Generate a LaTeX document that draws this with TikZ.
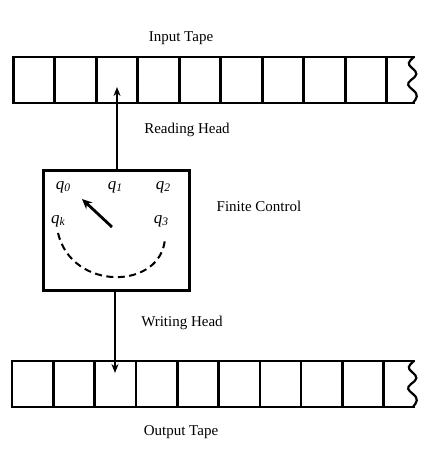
\documentclass[tikz,border=0pt]{standalone}
\usepackage{fontspec}
\setmainfont{Liberation Serif}
\usetikzlibrary{arrows.meta}
\tikzset{
  cell/.style={draw, line width=2.6pt, minimum width=41.3pt, minimum height=46pt, inner sep=0pt, outer sep=0pt},
  ctrl/.style={draw, line width=3pt, minimum width=146pt, minimum height=120pt, inner sep=0pt},
  lbl/.style={font=\fontsize{15}{17}\selectfont, inner sep=0pt},
  stt/.style={font=\fontsize{17}{19}\selectfont\itshape, inner sep=0pt},
  headarrow/.style={line width=1.8pt, -{Stealth[length=9pt,width=7pt]}},
  needle/.style={line width=2.8pt, -{Stealth[length=10pt,width=9pt]}},
  arcdash/.style={line width=2pt, dash pattern=on 7pt off 4.5pt}
}
\newcommand{\qs}[1]{q\raisebox{-0.25ex}{\fontsize{11.5}{13}\selectfont\itshape #1}}
\begin{document}
\begin{tikzpicture}[x=1pt,y=-1pt]
\useasboundingbox (0,0) rectangle (432,464);
% input tape
\foreach \i [count=\n] in {0,...,8} {
  \node[cell] (in\n) at (34+41.5*\i,80) {};
}
\draw[line width=2.6pt] (in9.north east) -- (415,57);
\draw[line width=2.6pt] (in9.south east) -- (415,103);
\draw[line width=2.2pt] (414,57) .. controls (408,62) and (407,64) .. (412,68)
  .. controls (418,73) and (418,75) .. (411,80)
  .. controls (406,84) and (408,86) .. (413,90)
  .. controls (419,95) and (417,98) .. (413,103);
% output tape
\foreach \i [count=\n] in {0,...,8} {
  \node[cell] (out\n) at (32.7+41.3*\i,384) {};
}
\draw[line width=2.6pt] (out9.north east) -- (415,361);
\draw[line width=2.6pt] (out9.south east) -- (415,407);
\draw[line width=2.2pt] (414,361) .. controls (408,366) and (407,368) .. (412,372)
  .. controls (418,377) and (418,379) .. (411,384)
  .. controls (406,388) and (408,390) .. (413,394)
  .. controls (419,399) and (417,402) .. (413,407);
% finite control
\node[ctrl] (fc) at (116,230) {};
\node[stt] (q0) at (63,187) {\qs{0}};
\node[stt] (q1) at (115,187) {\qs{1}};
\node[stt] (q2) at (163,187) {\qs{2}};
\node[stt] (qk) at (58,221) {\qs{k}};
\node[stt] (q3) at (161,221) {\qs{3}};
\coordinate (npivot) at (112,227);
\coordinate (ntip) at (82,199);
\draw[needle] (npivot) -- (ntip);
\coordinate (astart) at (58,233);
\coordinate (aend) at (165,238);
\draw[arcdash] (astart) .. controls (72,292) and (162,290) .. (aend);
% heads
\coordinate (rtip) at (117,87);
\coordinate (wtip) at (115,373);
\draw[headarrow] (fc.north -| rtip) -- (rtip);
\draw[headarrow] (fc.south -| wtip) -- (wtip);
% labels
\node[lbl] (tin) at (181,38) {Input Tape};
\node[lbl] (trh) at (187,130) {Reading Head};
\node[lbl] (tfc) at (259,206) {Finite Control};
\node[lbl] (twh) at (182,323) {Writing Head};
\node[lbl] (tout) at (181,432) {Output Tape};
\end{tikzpicture}
\end{document}
